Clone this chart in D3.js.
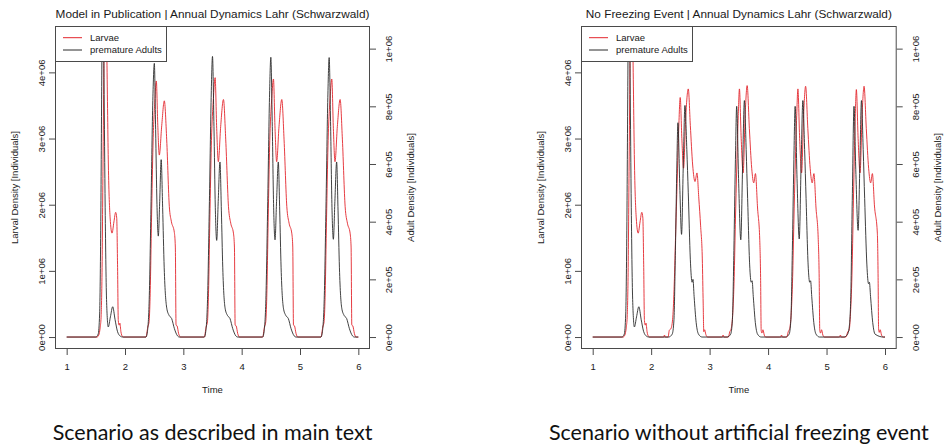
<!DOCTYPE html>
<html>
<head>
<meta charset="utf-8">
<script src="https://cdn.jsdelivr.net/npm/d3@7"></script>
<style>
  body { margin: 0; background: #fff; }
  svg { display: block; font-family: 'Liberation Sans', Arial, Helvetica, sans-serif; }
</style>
</head>
<body>
<svg id="chart" width="944" height="445"></svg>
<script>
// ---- data (time in years, densities in individuals) ----

const xTicks = [1, 2, 3, 4, 5, 6]
const larvaeTicks = [0, 1e6, 2e6, 3e6, 4e6]
const larvaeTickLabels = ['0e+00', '1e+06', '2e+06', '3e+06', '4e+06']
const adultTicks = [0, 2e5, 4e5, 6e5, 8e5, 1e6]
const adultTickLabels = ['0e+00', '2e+05', '4e+05', '6e+05', '8e+05', '1e+06']

const seriesNames = ['Larvae', 'premature Adults']

// first year is the same in both scenarios
const firstYearLarvae = [
  [1.00, 0], [1.52, 0], [1.55, 0.03e6], [1.575, 0.15e6], [1.59, 0.3e6], [1.605, 0.9e6],
  [1.622, 2.5e6], [1.64, 4.3e6], [1.665, 5.8e6], [1.69, 4.2e6], [1.715, 2.6e6],
  [1.745, 1.8e6], [1.778, 1.57e6], [1.81, 1.74e6], [1.84, 1.885e6], [1.858, 1.8e6],
  [1.872, 1.1e6], [1.885, 0.25e6], [1.90, 0.18e6], [1.912, 0.21e6], [1.93, 0.08e6],
  [1.955, 0.01e6], [1.975, 0]
]
const firstYearAdults = [
  [1.00, 0], [1.50, 0], [1.54, 0.01e6], [1.565, 0.08e6], [1.585, 0.4e6], [1.60, 0.85e6],
  [1.62, 1.4e6], [1.64, 0.9e6], [1.66, 0.45e6], [1.685, 0.12e6], [1.713, 0.035e6],
  [1.75, 0.07e6], [1.789, 0.105e6], [1.83, 0.06e6], [1.87, 0.02e6], [1.92, 0.003e6],
  [1.96, 0]
]

// "Model in Publication", years 2-5
const pubLarvae = [
  [2.36, 0], [2.39, 0.15e6], [2.413, 0.23e6], [2.43, 0.6e6], [2.455, 1.8e6], [2.48, 2.9e6],
  [2.51, 3.55e6], [2.537, 3.87e6], [2.562, 3.2e6], [2.588, 2.75e6], [2.63, 3.2e6],
  [2.674, 3.57e6], [2.715, 2.98e6], [2.76, 1.97e6], [2.794, 1.75e6], [2.846, 1.58e6],
  [2.863, 1.36e6], [2.875, 0.18e6], [2.892, 0.17e6], [2.92, 0.05e6], [2.95, 0],
  [3.36, 0], [3.39, 0.15e6], [3.413, 0.23e6], [3.43, 0.6e6], [3.455, 1.8e6], [3.48, 2.9e6],
  [3.515, 3.6e6], [3.545, 3.92e6], [3.572, 3.15e6], [3.60, 2.65e6], [3.64, 3.18e6],
  [3.688, 3.59e6], [3.727, 2.98e6], [3.774, 1.97e6], [3.813, 1.72e6], [3.859, 1.57e6],
  [3.876, 1.36e6], [3.888, 0.18e6], [3.905, 0.17e6], [3.933, 0.05e6], [3.962, 0],
  [4.36, 0], [4.39, 0.15e6], [4.413, 0.23e6], [4.43, 0.6e6], [4.455, 1.8e6], [4.48, 2.9e6],
  [4.515, 3.6e6], [4.545, 3.90e6], [4.572, 3.15e6], [4.60, 2.65e6], [4.64, 3.18e6],
  [4.688, 3.59e6], [4.727, 2.98e6], [4.774, 1.97e6], [4.813, 1.72e6], [4.859, 1.57e6],
  [4.876, 1.36e6], [4.888, 0.18e6], [4.905, 0.17e6], [4.933, 0.05e6], [4.962, 0],
  [5.36, 0], [5.39, 0.15e6], [5.413, 0.23e6], [5.43, 0.6e6], [5.455, 1.8e6], [5.48, 2.9e6],
  [5.515, 3.6e6], [5.545, 3.90e6], [5.572, 3.15e6], [5.60, 2.65e6], [5.64, 3.18e6],
  [5.688, 3.59e6], [5.727, 2.98e6], [5.774, 1.97e6], [5.813, 1.72e6], [5.859, 1.57e6],
  [5.876, 1.36e6], [5.888, 0.18e6], [5.905, 0.17e6], [5.933, 0.05e6], [5.962, 0], [6.00, 0]
]
const pubAdults = [
  [2.36, 0], [2.385, 0.02e6], [2.415, 0.13e6], [2.447, 0.47e6], [2.477, 0.82e6], [2.503, 0.949e6],
  [2.525, 0.72e6], [2.548, 0.46e6], [2.571, 0.35e6], [2.595, 0.47e6], [2.62, 0.615e6],
  [2.645, 0.45e6], [2.672, 0.24e6], [2.716, 0.10e6], [2.756, 0.075e6], [2.80, 0.064e6],
  [2.847, 0.029e6], [2.90, 0.004e6], [2.93, 0],
  [3.36, 0], [3.385, 0.02e6], [3.415, 0.13e6], [3.447, 0.47e6], [3.477, 0.83e6], [3.50, 0.973e6],
  [3.525, 0.73e6], [3.548, 0.45e6], [3.572, 0.335e6], [3.598, 0.47e6], [3.628, 0.607e6],
  [3.652, 0.44e6], [3.676, 0.24e6], [3.716, 0.10e6], [3.756, 0.075e6], [3.80, 0.064e6],
  [3.847, 0.029e6], [3.90, 0.004e6], [3.93, 0],
  [4.36, 0], [4.385, 0.02e6], [4.415, 0.13e6], [4.447, 0.47e6], [4.477, 0.83e6], [4.50, 0.970e6],
  [4.525, 0.73e6], [4.548, 0.45e6], [4.572, 0.337e6], [4.598, 0.47e6], [4.628, 0.607e6],
  [4.652, 0.44e6], [4.676, 0.24e6], [4.716, 0.10e6], [4.756, 0.075e6], [4.80, 0.064e6],
  [4.847, 0.029e6], [4.90, 0.004e6], [4.93, 0],
  [5.36, 0], [5.385, 0.02e6], [5.415, 0.13e6], [5.447, 0.47e6], [5.477, 0.83e6], [5.50, 0.969e6],
  [5.525, 0.73e6], [5.548, 0.45e6], [5.572, 0.339e6], [5.598, 0.47e6], [5.628, 0.607e6],
  [5.652, 0.44e6], [5.676, 0.24e6], [5.716, 0.10e6], [5.756, 0.075e6], [5.80, 0.064e6],
  [5.847, 0.029e6], [5.90, 0.004e6], [5.93, 0], [6.00, 0]
]

// "No Freezing Event", years 2-5
const nfLarvae = [
  [2.20, 0], [2.215, 0], [2.228, 0.03e6], [2.24, 0], [2.29, 0], [2.31, 0.1e6], [2.34, 0.13e6],
  [2.37, 0.3e6], [2.395, 0.8e6], [2.42, 1.6e6], [2.44, 2.2e6], [2.47, 3.1e6], [2.497, 3.62e6],
  [2.525, 3.0e6], [2.554, 2.55e6], [2.59, 3.3e6], [2.635, 3.75e6], [2.67, 3.2e6], [2.71, 2.6e6],
  [2.75, 2.35e6], [2.784, 2.48e6], [2.815, 2.1e6], [2.846, 1.68e6], [2.875, 1.18e6],
  [2.89, 0.5e6], [2.90, 0.08e6], [2.915, 0.11e6], [2.935, 0.04e6], [2.965, 0],
  [3.20, 0], [3.215, 0], [3.23, 0.03e6], [3.245, 0], [3.32, 0], [3.345, 0.08e6], [3.37, 0.13e6],
  [3.395, 0.35e6], [3.42, 0.9e6], [3.44, 1.7e6], [3.465, 2.6e6], [3.49, 3.35e6], [3.51, 3.75e6],
  [3.54, 3.0e6], [3.573, 2.48e6], [3.61, 3.4e6], [3.642, 3.80e6], [3.68, 3.15e6], [3.72, 2.55e6],
  [3.755, 2.33e6], [3.784, 2.47e6], [3.82, 1.95e6], [3.857, 1.48e6], [3.872, 0.9e6],
  [3.882, 0.1e6], [3.895, 0.06e6], [3.912, 0.11e6], [3.935, 0.03e6], [3.96, 0],
  [4.20, 0], [4.215, 0], [4.23, 0.03e6], [4.245, 0], [4.32, 0], [4.345, 0.08e6], [4.37, 0.13e6],
  [4.395, 0.35e6], [4.42, 0.9e6], [4.44, 1.7e6], [4.465, 2.6e6], [4.49, 3.35e6], [4.51, 3.75e6],
  [4.54, 3.0e6], [4.573, 2.48e6], [4.61, 3.4e6], [4.642, 3.79e6], [4.68, 3.15e6], [4.72, 2.55e6],
  [4.755, 2.33e6], [4.784, 2.47e6], [4.82, 1.95e6], [4.857, 1.5e6], [4.874, 0.9e6],
  [4.884, 0.1e6], [4.897, 0.06e6], [4.914, 0.11e6], [4.937, 0.03e6], [4.962, 0],
  [5.20, 0], [5.22, 0], [5.238, 0.03e6], [5.25, 0], [5.33, 0], [5.365, 0.08e6], [5.385, 0.1e6],
  [5.41, 0.36e6], [5.438, 1.06e6], [5.46, 2.07e6], [5.49, 3.3e6], [5.51, 3.74e6],
  [5.54, 3.0e6], [5.573, 2.48e6], [5.61, 3.4e6], [5.642, 3.79e6], [5.68, 3.15e6], [5.72, 2.55e6],
  [5.755, 2.33e6], [5.784, 2.47e6], [5.82, 1.98e6], [5.869, 1.57e6], [5.882, 0.9e6],
  [5.89, 0.13e6], [5.902, 0.07e6], [5.918, 0.11e6], [5.94, 0.03e6], [5.968, 0], [6.00, 0]
]
const nfAdults = [
  [2.30, 0], [2.36, 0.01e6], [2.39, 0.06e6], [2.415, 0.3e6], [2.44, 0.6e6], [2.458, 0.743e6],
  [2.49, 0.52e6], [2.52, 0.356e6], [2.55, 0.6e6], [2.578, 0.803e6], [2.61, 0.65e6],
  [2.635, 0.5e6], [2.67, 0.27e6], [2.70, 0.19e6], [2.715, 0.2e6], [2.735, 0.14e6],
  [2.77, 0.05e6], [2.81, 0.01e6], [2.87, 0],
  [3.30, 0], [3.36, 0.01e6], [3.39, 0.06e6], [3.415, 0.3e6], [3.44, 0.6e6], [3.463, 0.80e6],
  [3.495, 0.55e6], [3.533, 0.337e6], [3.565, 0.6e6], [3.595, 0.82e6], [3.625, 0.65e6],
  [3.65, 0.48e6], [3.685, 0.25e6], [3.712, 0.19e6], [3.727, 0.195e6], [3.747, 0.14e6],
  [3.782, 0.05e6], [3.82, 0.01e6], [3.88, 0],
  [4.30, 0], [4.36, 0.01e6], [4.39, 0.06e6], [4.415, 0.3e6], [4.44, 0.6e6], [4.463, 0.80e6],
  [4.495, 0.55e6], [4.533, 0.34e6], [4.565, 0.6e6], [4.595, 0.82e6], [4.625, 0.65e6],
  [4.65, 0.48e6], [4.685, 0.25e6], [4.712, 0.19e6], [4.727, 0.195e6], [4.747, 0.14e6],
  [4.782, 0.05e6], [4.82, 0.01e6], [4.88, 0],
  [5.30, 0], [5.36, 0.01e6], [5.385, 0.03e6], [5.413, 0.127e6], [5.44, 0.474e6], [5.47, 0.80e6],
  [5.50, 0.58e6], [5.54, 0.37e6], [5.57, 0.6e6], [5.597, 0.82e6], [5.627, 0.65e6],
  [5.652, 0.48e6], [5.69, 0.25e6], [5.718, 0.185e6], [5.733, 0.19e6], [5.753, 0.14e6],
  [5.79, 0.05e6], [5.83, 0.01e6], [5.97, 0], [6.00, 0]
]

// ---- layout ----
const colors = { larvae: '#e3262d', adults: '#2b2b2b', frame: '#4a4a4a', text: '#1a1a1a' }
const plotTop = 26
const plotBottom = 349
const fontSize = 9.5
const labelFont = "'Liberation Sans', Arial, sans-serif"

const svg = d3.select('#chart')

function drawPanel(cfg) {
  const { left, right, title, caption, larvae, adults, id } = cfg
  const x = d3.scaleLinear().domain([0.8, 6.2]).range([left, right])
  const yL = d3.scaleLinear().domain([-0.1808e6, 4.7008e6]).range([plotBottom, plotTop])
  const yA = d3.scaleLinear().domain([-0.0415e6, 1.0785e6]).range([plotBottom, plotTop])
  const cx = (left + right) / 2
  const cy = (plotTop + plotBottom) / 2

  const g = svg.append('g')

  g.append('clipPath').attr('id', id)
    .append('rect')
    .attr('x', left).attr('y', plotTop)
    .attr('width', right - left).attr('height', plotBottom - plotTop)

  const line = y => d3.line()
    .x(d => x(d[0]))
    .y(d => y(d[1]))
    .curve(d3.curveMonotoneX)

  const lines = g.append('g').attr('clip-path', `url(#${id})`)
  lines.append('path')
    .datum(larvae)
    .attr('d', line(yL))
    .attr('fill', 'none')
    .attr('stroke', colors.larvae)
    .attr('stroke-width', 0.9)
  lines.append('path')
    .datum(adults)
    .attr('d', line(yA))
    .attr('fill', 'none')
    .attr('stroke', colors.adults)
    .attr('stroke-width', 0.9)

  // axes
  const xAxis = g.append('g')
    .attr('transform', `translate(0,${plotBottom})`)
    .call(d3.axisBottom(x).tickValues(xTicks).tickSize(6).tickSizeOuter(0).tickPadding(8.5)
      .tickFormat(d3.format('d')))
  xAxis.select('.domain').remove()

  const yAxisL = g.append('g')
    .attr('transform', `translate(${left},0)`)
    .call(d3.axisLeft(yL).tickValues(larvaeTicks).tickSize(6).tickSizeOuter(0)
      .tickFormat((d, i) => larvaeTickLabels[i]))
  yAxisL.select('.domain').remove()
  yAxisL.selectAll('.tick text')
    .attr('transform', 'rotate(-90)')
    .attr('x', 0).attr('y', -10.5).attr('dy', 0)
    .attr('text-anchor', 'middle')

  const yAxisR = g.append('g')
    .attr('transform', `translate(${right},0)`)
    .call(d3.axisRight(yA).tickValues(adultTicks).tickSize(6).tickSizeOuter(0)
      .tickFormat((d, i) => adultTickLabels[i]))
  yAxisR.select('.domain').remove()
  yAxisR.selectAll('.tick text')
    .attr('transform', 'rotate(-90)')
    .attr('x', 0).attr('y', 22).attr('dy', 0)
    .attr('text-anchor', 'middle')

  g.selectAll('.tick line').attr('stroke', colors.frame)
  g.selectAll('.tick text')
    .attr('fill', colors.text)
    .style('font-size', fontSize + 'px')
    .style('font-family', labelFont)

  // frame
  g.append('rect')
    .attr('x', left + 0.5).attr('y', plotTop + 0.5)
    .attr('width', right - left - 1).attr('height', plotBottom - plotTop - 1)
    .attr('fill', 'none')
    .attr('stroke', colors.frame)

  // axis titles
  g.append('text')
    .attr('x', cx).attr('y', 393)
    .attr('text-anchor', 'middle')
    .style('font-size', fontSize + 'px')
    .attr('fill', colors.text)
    .text('Time')
  g.append('text')
    .attr('transform', `translate(${left - 37.5},${cy}) rotate(-90)`)
    .attr('text-anchor', 'middle')
    .style('font-size', fontSize + 'px')
    .attr('fill', colors.text)
    .text('Larval Density [Individuals]')
  g.append('text')
    .attr('transform', `translate(${right + 44},${cy}) rotate(-90)`)
    .attr('text-anchor', 'middle')
    .style('font-size', fontSize + 'px')
    .attr('fill', colors.text)
    .text('Adult Density [Individuals]')

  // title
  g.append('text')
    .attr('x', cx).attr('y', 18)
    .attr('text-anchor', 'middle')
    .style('font-size', '11.8px')
    .attr('fill', colors.text)
    .text(title)

  // legend
  const lg = g.append('g').attr('transform', `translate(${left},${plotTop})`)
  lg.append('rect')
    .attr('x', 0.5).attr('y', 0.5).attr('width', 111).attr('height', 35)
    .attr('fill', '#fff').attr('stroke', colors.frame)
  const legendColors = [colors.larvae, colors.adults]
  seriesNames.forEach((name, i) => {
    const ly = 11.7 + i * 12.3
    lg.append('line')
      .attr('x1', 8).attr('x2', 27).attr('y1', ly).attr('y2', ly)
      .attr('stroke', legendColors[i])
    lg.append('text')
      .attr('x', 35).attr('y', ly + 3.4)
      .style('font-size', fontSize + 'px')
      .attr('fill', colors.text)
      .text(name)
  })

  // caption under the panel
  g.append('text')
    .attr('x', cx).attr('y', 440)
    .attr('text-anchor', 'middle')
    .style('font-family', "Lato, 'Noto Sans', sans-serif")
    .style('font-size', '21.5px')
    .attr('fill', '#111')
    .text(caption)
}

drawPanel({
  id: 'clip-pub', left: 55, right: 370,
  title: 'Model in Publication | Annual Dynamics Lahr (Schwarzwald)',
  caption: 'Scenario as described in main text',
  larvae: firstYearLarvae.concat(pubLarvae),
  adults: firstYearAdults.concat(pubAdults)
})

drawPanel({
  id: 'clip-nf', left: 581, right: 896.7,
  title: 'No Freezing Event | Annual Dynamics Lahr (Schwarzwald)',
  caption: 'Scenario without artificial freezing event',
  larvae: firstYearLarvae.concat(nfLarvae),
  adults: firstYearAdults.concat(nfAdults)
})
</script>
</body>
</html>
